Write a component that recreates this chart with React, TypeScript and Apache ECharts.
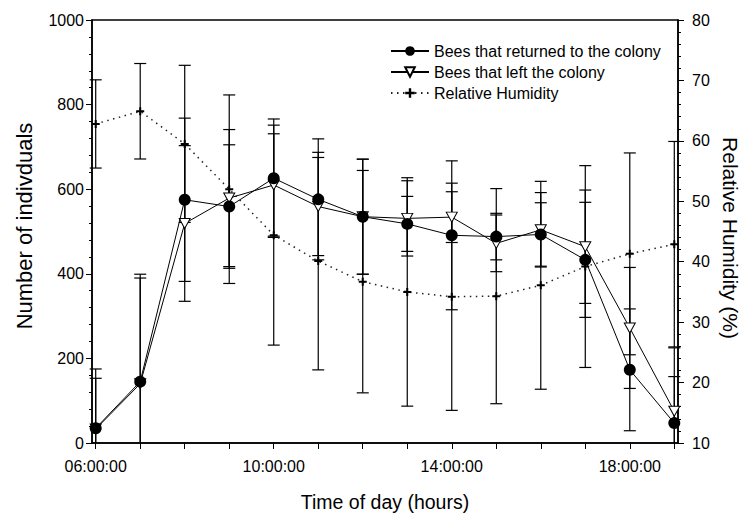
import React, { useEffect, useRef } from 'react';
import * as echarts from 'echarts';

// Time of day (hours)
const hours = [6, 7, 8, 9, 10, 11, 12, 13, 14, 15, 16, 17, 18, 19];
const xLabelHours = [6, 10, 14, 18];

// Bees that returned to the colony (mean and SD)
const returnedMean = [35, 145, 575, 559, 626, 576, 535, 518, 491, 488, 493, 433, 173, 47];
const returnedSd = [140, 254, 193, 146, 140, 143, 136, 65, 176, 55, 75, 136, 144, 110];

// Bees that left the colony (mean and SD)
const leftMean = [33, 140, 519, 579, 610, 559, 535, 531, 534, 472, 504, 464, 272, 75];
const leftSd = [120, 250, 184, 162, 121, 116, 136, 89, 60, 67, 88, 134, 143, 150];

// Relative Humidity (%) (mean and SD)
const humidityMean = [62.8, 64.9, 59.5, 52.0, 44.4, 40.1, 36.7, 35.0, 34.2, 34.3, 36.1, 39.2, 41.3, 42.9];
const humiditySd = [7.3, 7.9, 13.0, 15.6, 18.2, 18.0, 18.4, 18.9, 18.8, 17.8, 17.2, 16.7, 16.7, 17.0];

const FONT = 'Liberation Sans, Arial, Helvetica, sans-serif';
const PLUS = 'path://M3,0H5V3H8V5H5V8H3V5H0V3H3Z';

function errorBars(name: string, means: number[], sds: number[], yAxisIndex: number) {
  return {
    type: 'custom',
    name,
    yAxisIndex,
    z: 1,
    silent: true,
    data: hours.map((h, i) => [h, means[i] - sds[i], means[i] + sds[i]]),
    encode: { x: 0, y: [1, 2] },
    renderItem: (params: any, api: any) => {
      const x = api.value(0);
      const lo = api.value(1);
      const hi = api.value(2);
      const pTop = api.coord([x, hi]);
      const pBot = api.coord([x, lo]);
      const cs = params.coordSys;
      const yMin = cs.y;
      const yMax = cs.y + cs.height;
      const half = 6;
      const style = { stroke: '#000', lineWidth: 1.2 };
      const topY = Math.max(pTop[1], yMin);
      const botY = Math.min(pBot[1], yMax);
      const children: any[] = [
        { type: 'line', shape: { x1: pTop[0], y1: topY, x2: pTop[0], y2: botY }, style },
      ];
      if (pTop[1] >= yMin) {
        children.push({ type: 'line', shape: { x1: pTop[0] - half, y1: pTop[1], x2: pTop[0] + half, y2: pTop[1] }, style });
      }
      if (pBot[1] <= yMax) {
        children.push({ type: 'line', shape: { x1: pBot[0] - half, y1: pBot[1], x2: pBot[0] + half, y2: pBot[1] }, style });
      }
      return { type: 'group', children };
    },
  };
}

export default function App() {
  const ref = useRef<HTMLDivElement>(null);

  useEffect(() => {
    if (!ref.current) return;
    const chart = echarts.init(ref.current, null, { renderer: 'svg' });

    const axisText = { color: '#000', fontSize: 16, fontFamily: FONT };

    chart.setOption({
      animation: false,
      backgroundColor: '#fff',
      grid: {
        left: 92,
        right: 62,
        top: 20,
        bottom: 71,
        show: true,
        borderColor: '#000',
        borderWidth: 1.5,
        backgroundColor: 'transparent',
      },
      legend: {
        orient: 'vertical',
        left: 385,
        top: 38,
        itemWidth: 38,
        itemHeight: 12,
        itemGap: 5,
        textStyle: { color: '#000', fontSize: 16, fontFamily: FONT },
        data: ['Bees that returned to the colony', 'Bees that left the colony', 'Relative Humidity'],
      },
      xAxis: {
        type: 'value',
        min: 5.9167,
        max: 19.0833,
        axisLine: { show: true, lineStyle: { color: '#000', width: 1.5 } },
        axisTick: { show: true, length: 6, inside: false, customValues: hours, lineStyle: { color: '#000', width: 1 } },
        axisLabel: {
          ...axisText,
          margin: 15,
          customValues: xLabelHours,
          formatter: (v: number) => String(Math.round(v)).padStart(2, '0') + ':00:00',
        },
        splitLine: { show: false },
      },
      yAxis: [
        {
          type: 'value',
          min: 0,
          max: 1000,
          interval: 200,
          position: 'left',
          axisLine: { show: true, lineStyle: { color: '#000', width: 1.5 } },
          axisTick: { show: true, length: 6, inside: false, lineStyle: { color: '#000', width: 1 } },
          minorTick: { show: true, splitNumber: 5, length: 3, lineStyle: { color: '#000', width: 1 } },
          axisLabel: { ...axisText, margin: 8, formatter: (v: number) => String(v) },
          splitLine: { show: false },
          minorSplitLine: { show: false },
        },
        {
          type: 'value',
          min: 10,
          max: 80,
          interval: 10,
          position: 'right',
          axisLine: { show: true, lineStyle: { color: '#000', width: 1.5 } },
          axisTick: { show: true, length: 6, inside: false, lineStyle: { color: '#000', width: 1 } },
          minorTick: { show: true, splitNumber: 5, length: 3, lineStyle: { color: '#000', width: 1 } },
          axisLabel: { ...axisText, margin: 14, formatter: (v: number) => String(v) },
          splitLine: { show: false },
          minorSplitLine: { show: false },
        },
      ],
      graphic: [
        {
          type: 'text',
          x: 24,
          y: 226,
          rotation: Math.PI / 2,
          style: { text: 'Number of indivduals', fill: '#000', font: `22px ${FONT}`, align: 'center', verticalAlign: 'middle' },
        },
        {
          type: 'text',
          x: 730,
          y: 238,
          rotation: -Math.PI / 2,
          style: { text: 'Relative Humidity (%)', fill: '#000', font: `21px ${FONT}`, align: 'center', verticalAlign: 'middle' },
        },
        {
          type: 'text',
          x: 385,
          y: 502,
          style: { text: 'Time of day (hours)', fill: '#000', font: `19.5px ${FONT}`, align: 'center', verticalAlign: 'middle' },
        },
      ],
      series: [
        errorBars('rh-err', humidityMean, humiditySd, 1),
        errorBars('ret-err', returnedMean, returnedSd, 0),
        errorBars('left-err', leftMean, leftSd, 0),
        {
          name: 'Relative Humidity',
          type: 'line',
          yAxisIndex: 1,
          z: 3,
          data: hours.map((h, i) => [h, humidityMean[i]]),
          symbol: PLUS,
          symbolSize: 8,
          showSymbol: true,
          lineStyle: { color: '#222', width: 1.5, type: [1.5, 4.5] },
          itemStyle: { color: '#000' },
        },
        {
          name: 'Bees that left the colony',
          type: 'line',
          yAxisIndex: 0,
          z: 4,
          data: hours.map((h, i) => [h, leftMean[i]]),
          symbol: 'triangle',
          symbolRotate: 180,
          symbolSize: [11, 10],
          showSymbol: true,
          lineStyle: { color: '#000', width: 1 },
          itemStyle: { color: '#fff', borderColor: '#000', borderWidth: 1 },
        },
        {
          name: 'Bees that returned to the colony',
          type: 'line',
          yAxisIndex: 0,
          z: 5,
          data: hours.map((h, i) => [h, returnedMean[i]]),
          symbol: 'circle',
          symbolSize: 12,
          showSymbol: true,
          lineStyle: { color: '#000', width: 1 },
          itemStyle: { color: '#000' },
        },
      ],
    });

    return () => chart.dispose();
  }, []);

  return <div ref={ref} style={{ position: 'absolute', left: 0, top: 0, width: 740, height: 514 }} />;
}
